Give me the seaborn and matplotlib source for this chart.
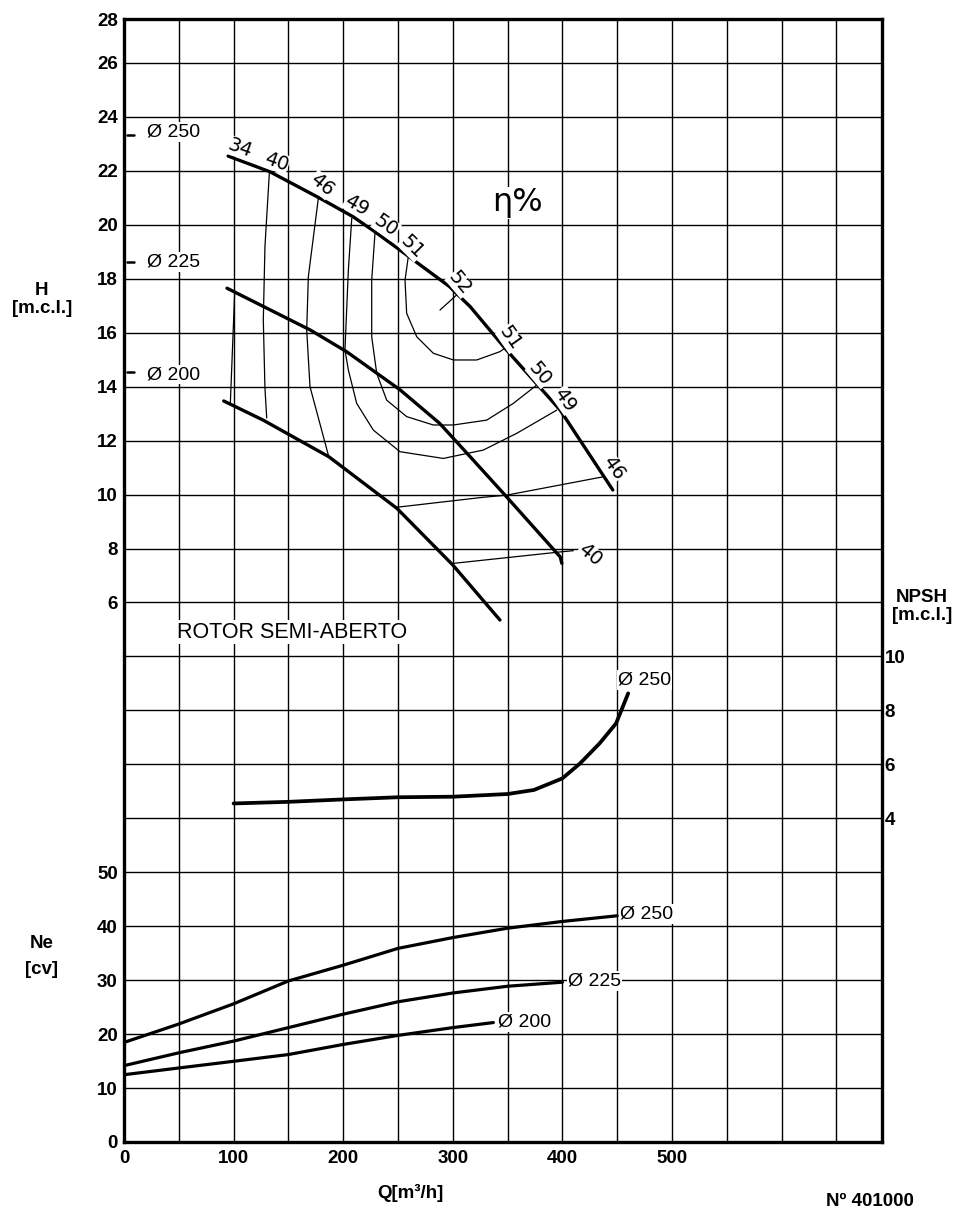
import numpy as np
import matplotlib
matplotlib.use("Agg")
import matplotlib.pyplot as plt
import seaborn as sns
from matplotlib.ticker import FixedLocator, FixedFormatter

# ---------------- data ----------------
# Head curves H [m.c.l.] vs Q [m3/h]
q_h250 = [95, 133, 179, 209, 229, 258, 297, 316, 349, 398, 446]
h_h250 = [22.55, 21.97, 20.98, 20.30, 19.74, 18.88, 17.71, 16.96, 15.36, 13.13, 10.17]
q_h225 = [94, 170, 203, 231, 252, 288, 313, 349, 398, 399.5]
h_h225 = [17.65, 16.10, 15.30, 14.49, 13.88, 12.64, 11.53, 9.92, 7.69, 7.45]
q_h200 = [91, 127, 187, 249, 300, 343]
h_h200 = [13.47, 12.76, 11.40, 9.49, 7.39, 5.35]

# shut-off head marks on the H axis
shutoff_h = [23.33, 18.63, 14.55]
shutoff_q = [2.7, 9.1]
diam_names = ["Ø 250", "Ø 225", "Ø 200"]

# iso-efficiency lines (eta %)
eff34_q = [101, 97]
eff34_h = [17.50, 13.36]
eff40_q = [132.6, 128.6, 127.1, 128.6, 130.2]
eff40_h = [21.91, 19.19, 16.47, 13.95, 12.84]
eff46_q = [177.3, 168.2, 166.7, 169.7, 186.4]
eff46_h = [20.98, 18.08, 16.10, 14.00, 11.47]
eff49_q = [207.8, 204.7, 201.6, 204.7, 212.3, 227.5, 251.8, 291.3, 327.8, 358.3, 394.8]
eff49_h = [20.24, 18.32, 15.36, 14.62, 13.38, 12.39, 11.59, 11.34, 11.65, 12.27, 13.13]
eff50_q = [229.0, 226.0, 226.0, 230.6, 239.7, 257.9, 282.2, 300.5, 330.9, 355.2, 376.6]
eff50_h = [19.69, 17.95, 15.85, 14.49, 13.50, 12.89, 12.58, 12.58, 12.76, 13.38, 14.06]
eff51_q = [259.4, 256.4, 257.9, 267.1, 282.2, 300.5, 321.8, 343.1, 349.2]
eff51_h = [18.82, 17.95, 16.72, 15.85, 15.24, 14.99, 14.99, 15.30, 15.48]
eff52_q = [303.5, 288.3]
eff52_h = [17.40, 16.84]
eff46r_q = [248.8, 327.8, 349.2, 437.3]
eff46r_h = [9.53, 9.90, 9.98, 10.66]
eff40r_q = [300.5, 399.4, 410.0]
eff40r_h = [7.45, 7.88, 7.92]

eff_text = ["34", "40", "46", "49", "50", "51", "52", "51", "50", "49", "46", "40"]
eff_text_q = [105.8, 139.3, 180.4, 212.3, 239.1, 262.8, 306.6, 352.2, 379.6, 402.4, 446.4, 425.2]
eff_text_h = [22.84, 22.34, 21.48, 20.73, 19.96, 19.18, 17.84, 15.79, 14.49, 13.50, 10.97, 7.76]
eff_text_rot = [-20, -20, -40, -30, -35, -45, -50, -55, -50, -55, -55, -40]

# NPSH [m.c.l.]
npsh_q = [100, 150, 200, 250, 300, 350, 374, 400, 416, 434, 449, 460]
npsh_250 = [4.55, 4.61, 4.70, 4.78, 4.80, 4.90, 5.05, 5.48, 6.03, 6.78, 7.52, 8.63]

# Power Ne [cv]
ne_q = [0, 50, 100, 150, 200, 250, 300, 350, 400, 450]
ne_250 = [18.45, 21.87, 25.61, 29.85, 32.77, 35.89, 37.89, 39.63, 40.88, 41.93]
ne_q225 = [0, 50, 100, 150, 200, 250, 300, 350, 400]
ne_225 = [14.15, 16.53, 18.70, 21.20, 23.69, 25.99, 27.62, 28.87, 29.62]
ne_q200 = [0, 50, 100, 150, 200, 250, 300, 337]
ne_200 = [12.47, 13.72, 14.96, 16.21, 18.08, 19.76, 21.20, 22.14]

h_ticks = [6, 8, 10, 12, 14, 16, 18, 20, 22, 24, 26, 28]
ne_ticks = [0, 10, 20, 30, 40, 50]
npsh_ticks = [4, 6, 8, 10]
q_ticks = [0, 100, 200, 300, 400, 500]

# ---------------- style ----------------
sns.set_theme(style="white")
plt.rcParams['font.family'] = ['Liberation Sans', 'DejaVu Sans']
plt.rcParams['text.color'] = 'black'
plt.rcParams['axes.labelcolor'] = 'black'
plt.rcParams['xtick.color'] = 'black'
plt.rcParams['ytick.color'] = 'black'

W, Hpx = 956, 1212
fig = plt.figure(figsize=(W / 100, Hpx / 100), dpi=100)
fig.patch.set_facecolor("white")

def fx(px):
    return px / W

def fy(py):
    return 1 - py / Hpx

ax = fig.add_axes([fx(124), fy(1142), 758 / W, 1123 / Hpx])
H_TOP = 27.63
ax.set_xlim(0, 691.6)
ax.set_ylim(-14, H_TOP)

# grid
ax.set_xticks(np.arange(0, 651, 50), minor=True)
ax.set_yticks(np.arange(-14, 27, 2), minor=True)
ax.xaxis.set_major_locator(FixedLocator(q_ticks))
ax.set_xticklabels([str(v) for v in q_ticks])
ypos = [v for v in h_ticks[:-1]] + [H_TOP]
ax.yaxis.set_major_locator(FixedLocator(ypos))
ax.yaxis.set_major_formatter(FixedFormatter([str(v) for v in h_ticks]))
ax.grid(which="both", color="black", linewidth=1.0)
ax.set_axisbelow(True)
ax.tick_params(which="both", length=0, colors="black")
ax.tick_params(axis="x", pad=6)
ax.tick_params(axis="y", pad=4.5)
for lab in ax.get_xticklabels() + ax.get_yticklabels():
    lab.set_fontweight("bold")
    lab.set_fontsize(13.5)
    lab.set_color("black")
for s in ax.spines.values():
    s.set_linewidth(2.4)
    s.set_color("black")
    s.set_visible(True)

lw_main = 2.4
lw_thin = 0.9
kw = dict(color="black", sort=False, estimator=None, legend=False)

# head curves
for q, h in [(q_h250, h_h250), (q_h225, h_h225), (q_h200, h_h200)]:
    sns.lineplot(x=q, y=h, ax=ax, linewidth=lw_main, **kw)

# shut-off marks and diameter labels
for h0, name in zip(shutoff_h, diam_names):
    sns.lineplot(x=shutoff_q, y=[h0, h0], ax=ax, linewidth=1.8, **kw)
    ax.text(21, h0 + (0.12 if name == "Ø 250" else -0.1 if name == "Ø 200" else 0.0),
            name, fontsize=14, ha="left", va="center", color="black",
            bbox=dict(facecolor="white", edgecolor="none", pad=1.0), zorder=5)

# efficiency lines
for q, h in [(eff34_q, eff34_h), (eff40_q, eff40_h), (eff46_q, eff46_h),
             (eff49_q, eff49_h), (eff50_q, eff50_h), (eff51_q, eff51_h),
             (eff52_q, eff52_h), (eff46r_q, eff46r_h), (eff40r_q, eff40r_h)]:
    sns.lineplot(x=q, y=h, ax=ax, linewidth=lw_thin, **kw)

for t, q, h, r in zip(eff_text, eff_text_q, eff_text_h, eff_text_rot):
    ax.text(q, h, t, fontsize=14, rotation=r, ha="center", va="center",
            family=["DejaVu Sans"], color="black",
            bbox=dict(facecolor="white", edgecolor="none", pad=0.2), zorder=5)

ax.text(358.6, 20.81, "η%", fontsize=23, ha="center", va="center",
        family=["DejaVu Sans"], color="black",
        bbox=dict(facecolor="white", edgecolor="none", pad=0.5), zorder=5)
ax.text(153, 4.9, "ROTOR SEMI-ABERTO", fontsize=15.5, ha="center", va="center",
        color="black",
        bbox=dict(facecolor="white", edgecolor="none", pad=1.0), zorder=5)

# Ne axis (left, lower part)
ax_ne = ax.twinx()
ax_ne.set_ylim(0, (H_TOP + 14) * 5)
ax_ne.yaxis.set_major_locator(FixedLocator(ne_ticks))
ax_ne.yaxis.tick_left()
ax_ne.tick_params(length=0, pad=4.5, colors="black")
for lab in ax_ne.get_yticklabels():
    lab.set_fontweight("bold")
    lab.set_fontsize(13.5)
    lab.set_color("black")
for s in ax_ne.spines.values():
    s.set_visible(False)
ax_ne.grid(False)

for q, n in [(ne_q, ne_250), (ne_q225, ne_225), (ne_q200, ne_200)]:
    sns.lineplot(x=q, y=n, ax=ax_ne, linewidth=2.3, **kw)
for q, n, name in [(452.6, 42.26, "Ø 250"), (405, 29.86, "Ø 225"), (341, 22.2, "Ø 200")]:
    ax_ne.text(q, n, name, fontsize=14, ha="left", va="center", color="black",
               bbox=dict(facecolor="white", edgecolor="none", pad=1.0), zorder=5)

# NPSH axis (right)
ax_np = ax.twinx()
ax_np.set_ylim(-8, H_TOP + 6)
ax_np.yaxis.set_major_locator(FixedLocator(npsh_ticks))
ax_np.yaxis.tick_right()
ax_np.tick_params(length=0, pad=2, colors="black")
for lab in ax_np.get_yticklabels():
    lab.set_fontweight("bold")
    lab.set_fontsize(13.5)
    lab.set_color("black")
for s in ax_np.spines.values():
    s.set_visible(False)
ax_np.grid(False)
sns.lineplot(x=npsh_q, y=npsh_250, ax=ax_np, linewidth=2.7, **kw)
ax_np.text(450.7, 9.12, "Ø 250", fontsize=14, ha="left", va="center", color="black",
           bbox=dict(facecolor="white", edgecolor="none", pad=1.0), zorder=5)
ax_np.set_xlim(0, 691.6)
ax_ne.set_xlim(0, 691.6)

# axis titles
tk = dict(fontsize=13.5, fontweight="bold", ha="center", va="center", color="black")
fig.text(fx(42), fy(290), "H", **tk)
fig.text(fx(42), fy(308), "[m.c.l.]", **tk)
fig.text(fx(42), fy(943), "Ne", **tk)
fig.text(fx(42), fy(970), "[cv]", **tk)
fig.text(fx(922), fy(598), "NPSH", **tk)
fig.text(fx(922), fy(615), "[m.c.l.]", **tk)
fig.text(fx(410), fy(1193), "Q[m³/h]", **tk)
fig.text(fx(870), fy(1202), "Nº 401000", **tk)

fig.savefig("out.png", dpi=100, facecolor="white")
